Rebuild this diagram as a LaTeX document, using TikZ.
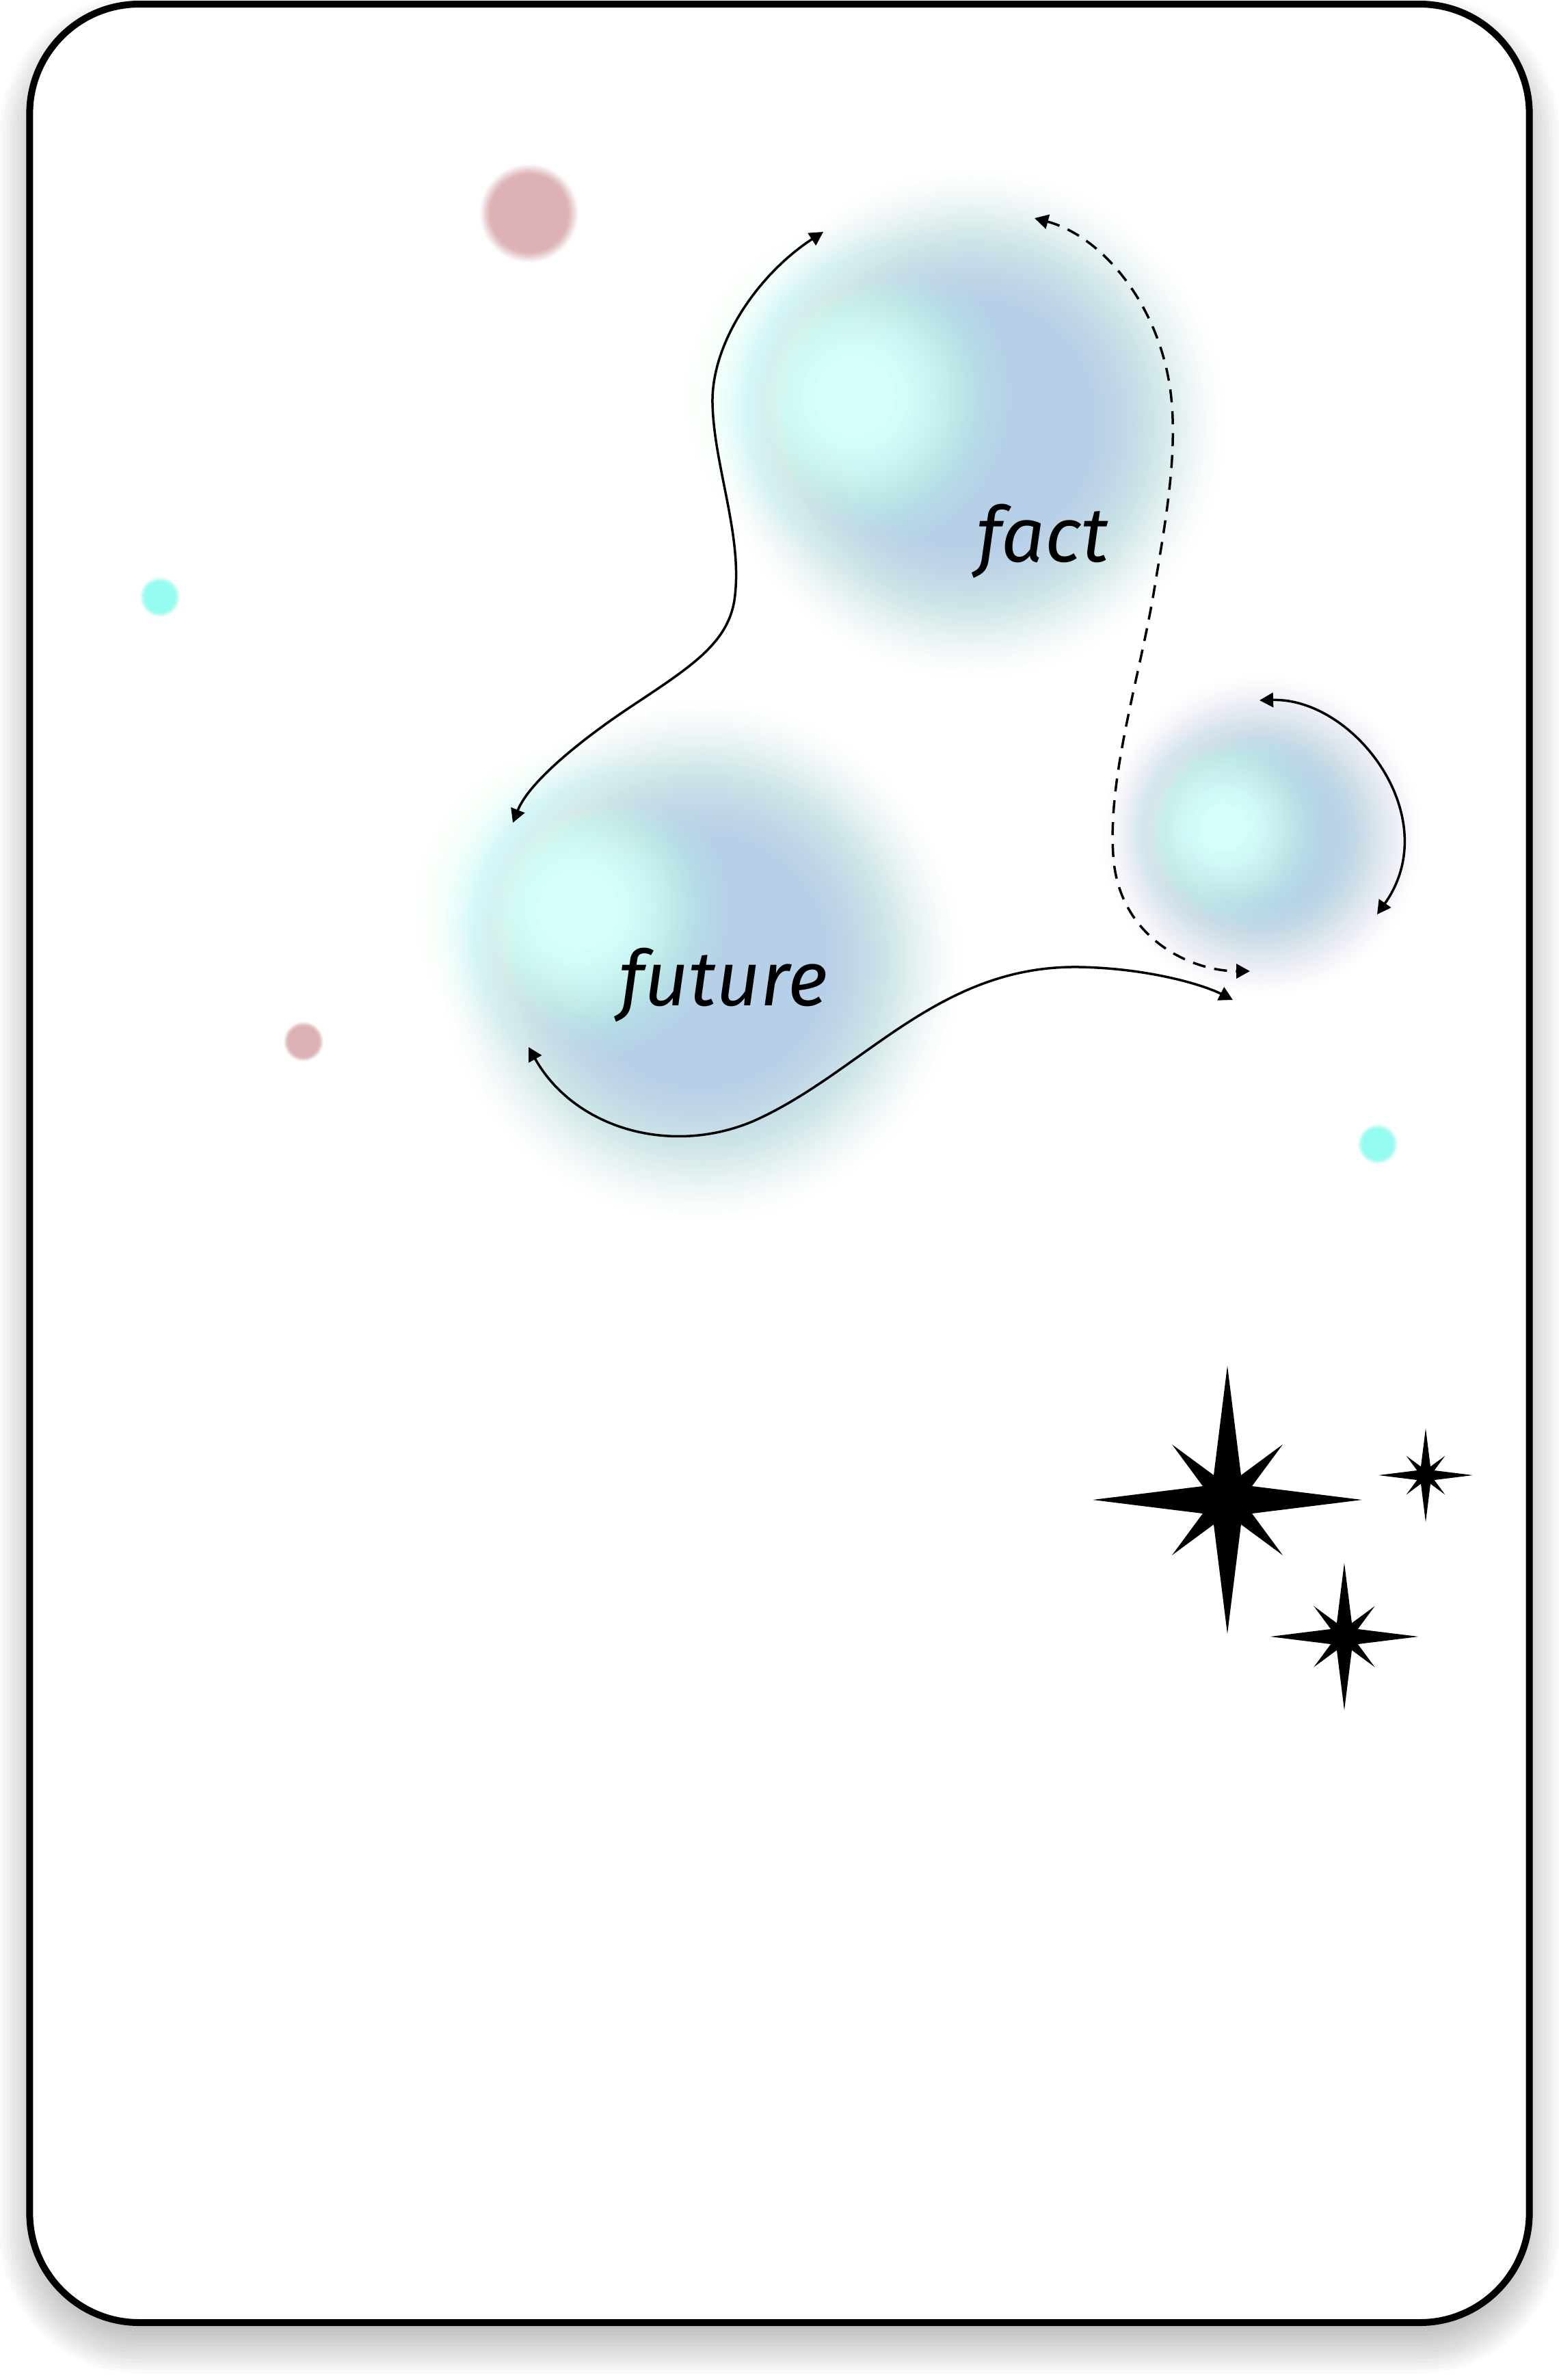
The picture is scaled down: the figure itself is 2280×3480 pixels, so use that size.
\documentclass[tikz,border=0pt]{standalone}
\usepackage{fontspec}
\newfontfamily\handfont{Fira Sans}
\usetikzlibrary{arrows.meta}
\definecolor{blobblue}{RGB}{182,208,231}
\definecolor{blobcyan}{RGB}{212,255,250}
\definecolor{dotpink}{RGB}{221,176,181}
\definecolor{dotcyan}{RGB}{150,252,242}
% soft disc: colour, centre, outer radius, core radius, layers
% layer i has opacity 1/(n-i+1), so that the built-up opacity grows by 1/n per layer
% and the core is fully opaque; radii follow a smoothstep profile
\newcommand\softblob[5]{%
  \foreach \i in {1,...,#5}{%
    \pgfmathsetmacro\sv{min(\i/#5,1)}%
    \pgfmathsetmacro\uv{0.5-sin(asin(max(-1,1-2*\sv))/3)}%
    \pgfmathsetmacro\rad{#3-(#3-#4)*\uv}%
    \pgfmathsetmacro\op{1/(#5-\i+1)}%
    \fill[#1,opacity=\op] #2 circle (\rad);
  }%
}
\begin{document}
\begin{tikzpicture}[x=0.01cm,y=-0.01cm,
  cardbox/.style={draw=black,line width=0.1cm,fill=white,rounded corners=1.6cm,inner sep=0pt,outer sep=0pt},
  word/.style={font=\handfont\itshape\fontsize{32}{38}\selectfont,anchor=base,inner sep=0pt},
  twoway/.style={line width=0.035cm,{Triangle[length=0.2cm,width=0.21cm]}-{Triangle[length=0.2cm,width=0.21cm]}},
  dashway/.style={twoway,dash pattern=on 0.19cm off 0.13cm},
  sparkle/.pic={\fill (0,-196) -- (20,-36) -- (81,-81) -- (36,-20) -- (197,0) -- (36,20) -- (81,81) -- (20,36) -- (0,196) -- (-20,36) -- (-81,81) -- (-36,20) -- (-197,0) -- (-36,-20) -- (-81,-81) -- (-20,-36) -- cycle;}
]
\useasboundingbox (0,0) rectangle (2280,3480);
% soft shadow of the card
\foreach \d in {-30,-25,...,45}{
  \pgfmathsetmacro\rr{max(160+\d,5)*0.01}
  \fill[black,opacity=0.018,rounded corners=\rr cm] (44-\d,37-\d) rectangle (2236+\d,3425+\d);
}
% card
\node[cardbox,minimum width=21.92cm,minimum height=33.88cm] (card) at (1140,1701) {};
% blobs
\softblob{blobblue}{(1420,620)}{390}{150}{50}
\softblob{blobcyan}{(1250,580)}{270}{60}{50}
\softblob{blobblue}{(1025,1405)}{400}{150}{50}
\softblob{blobcyan}{(845,1330)}{260}{60}{50}
\softblob{blobblue}{(1845,1222)}{248}{85}{40}
\softblob{blobcyan}{(1790,1210)}{172}{35}{40}
% dots
\softblob{dotpink}{(774,312)}{76}{54}{16}
\softblob{dotpink}{(444,1523)}{31}{22}{10}
\softblob{dotcyan}{(234,873)}{31}{22}{10}
\softblob{dotcyan}{(2015,1673)}{31}{22}{10}
% labels
\node[word] (fact) at (1525,821) {fact};
\node[word] (future) at (1058,1470) {future};
% arrow end points
\coordinate (a1s) at (1204,339);
\coordinate (a1e) at (750,1203);
\coordinate (a2s) at (1513,319);
\coordinate (a2e) at (1828,1420);
\coordinate (a3s) at (1842,1024);
\coordinate (a3e) at (2014,1337);
\coordinate (a4s) at (773,1531);
\coordinate (a4e) at (1803,1462);
% arrows
\draw[twoway] (a1s) .. controls (1110,400) and (1040,500) .. (1042,590)
  .. controls (1044,680) and (1085,780) .. (1075,870)
  .. controls (1068,940) and (1010,975) .. (920,1035)
  .. controls (860,1075) and (775,1140) .. (a1e);
\draw[dashway] (a2s) .. controls (1610,345) and (1690,440) .. (1710,560)
  .. controls (1725,650) and (1705,760) .. (1690,850)
  .. controls (1670,980) and (1620,1130) .. (1628,1250)
  .. controls (1635,1370) and (1740,1420) .. (a2e);
\draw[twoway] (a3s) .. controls (1980,1020) and (2115,1195) .. (a3e);
\draw[twoway] (a4s) .. controls (840,1650) and (980,1690) .. (1100,1640)
  .. controls (1260,1570) and (1370,1410) .. (1580,1414)
  .. controls (1680,1416) and (1760,1440) .. (a4e);
% sparkles
\pic (s1) at (1795,2193) {sparkle};
\pic[scale=0.55] (s2) at (1966,2393) {sparkle};
\pic[scale=0.35] (s3) at (2085,2157) {sparkle};
\end{tikzpicture}
\end{document}
